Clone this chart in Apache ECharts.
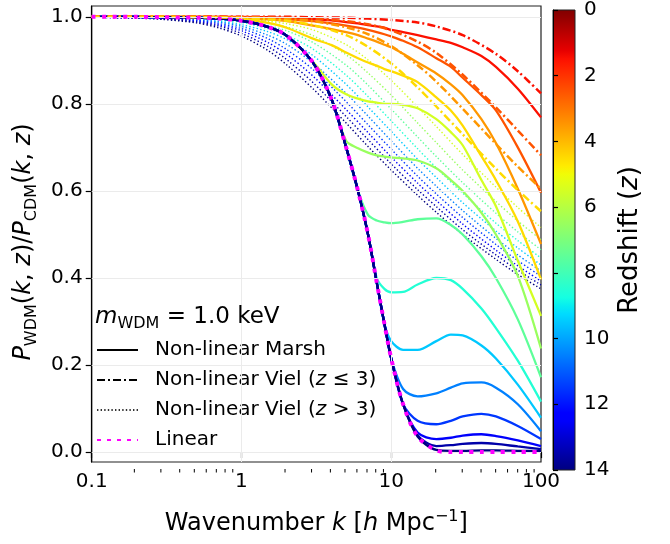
<!DOCTYPE html>
<html><head><meta charset="utf-8">
<script src="https://cdn.jsdelivr.net/npm/echarts@6/dist/echarts.min.js"></script>
<style>html,body{margin:0;padding:0;background:#fff}#c{width:670px;height:544px}</style>
</head><body><div id="c"></div>
<script>
// ---------------- DATA ----------------
const kMarsh = [0.1,0.2,0.3,0.5,0.7,1,1.5,2,3,4,5,6,7,8,9,10,12,15,20,25,30,40,50,70,100];
const linearRatio = [1.0,1.0,0.999,0.998,0.996,0.991,0.977,0.957,0.895,0.81,0.70,0.60,0.50,0.39,0.295,0.215,0.11,0.036,0.004,0.0,0.0,0.0,0.0,0.0,0.0];

const marshRedshifts = [0,1,2,3,4,5,6,7,8,9,10,11,12,13];
const marsh_z0  = [1.0,1.0,1.0,1.0,1.0,1.0,0.999,0.998,0.995,0.992,0.988,0.985,0.981,0.978,0.975,0.970,0.965,0.958,0.948,0.940,0.930,0.910,0.885,0.835,0.769];
const marsh_z1  = [1.0,1.0,1.0,1.0,1.0,0.999,0.997,0.995,0.990,0.985,0.980,0.975,0.970,0.965,0.960,0.955,0.945,0.930,0.905,0.885,0.860,0.820,0.785,0.700,0.596];
const marsh_z2  = [1.0,1.0,1.0,1.0,0.999,0.997,0.994,0.990,0.980,0.972,0.965,0.958,0.950,0.943,0.936,0.930,0.915,0.895,0.870,0.845,0.820,0.765,0.710,0.605,0.478];
const marsh_z3  = [1.0,1.0,1.0,1.0,0.998,0.995,0.986,0.975,0.950,0.935,0.918,0.905,0.895,0.888,0.880,0.875,0.865,0.850,0.815,0.785,0.750,0.680,0.625,0.530,0.397];
const marsh_z4  = [1.0,1.0,1.0,0.999,0.997,0.991,0.977,0.957,0.897,0.845,0.822,0.812,0.806,0.803,0.800,0.800,0.798,0.790,0.765,0.735,0.705,0.625,0.565,0.440,0.313];
const marsh_z5  = [1.0,1.0,0.999,0.998,0.996,0.991,0.977,0.957,0.895,0.810,0.715,0.698,0.688,0.682,0.679,0.677,0.675,0.670,0.652,0.625,0.600,0.550,0.500,0.405,0.238];
const marsh_z6  = [1.0,1.0,0.999,0.998,0.996,0.991,0.977,0.957,0.895,0.810,0.700,0.600,0.545,0.532,0.528,0.526,0.529,0.535,0.537,0.522,0.500,0.450,0.400,0.305,0.172];
const marsh_z7  = [1.0,1.0,0.999,0.998,0.996,0.991,0.977,0.957,0.895,0.810,0.700,0.600,0.500,0.400,0.375,0.367,0.368,0.385,0.400,0.395,0.375,0.330,0.285,0.210,0.116];
const marsh_z8  = [1.0,1.0,0.999,0.998,0.996,0.991,0.977,0.957,0.895,0.810,0.700,0.600,0.500,0.390,0.295,0.255,0.235,0.235,0.255,0.270,0.268,0.245,0.215,0.155,0.079];
const marsh_z9  = [1.0,1.0,0.999,0.998,0.996,0.991,0.977,0.957,0.895,0.810,0.700,0.600,0.500,0.390,0.295,0.215,0.145,0.128,0.135,0.148,0.158,0.160,0.148,0.110,0.048];
const marsh_z10 = [1.0,1.0,0.999,0.998,0.996,0.991,0.977,0.957,0.895,0.810,0.700,0.600,0.500,0.390,0.295,0.215,0.110,0.072,0.064,0.072,0.082,0.088,0.082,0.060,0.030];
const marsh_z11 = [1.0,1.0,0.999,0.998,0.996,0.991,0.977,0.957,0.895,0.810,0.700,0.600,0.500,0.390,0.295,0.215,0.110,0.045,0.030,0.033,0.038,0.041,0.037,0.027,0.014];
const marsh_z12 = [1.0,1.0,0.999,0.998,0.996,0.991,0.977,0.957,0.895,0.810,0.700,0.600,0.500,0.390,0.295,0.215,0.110,0.038,0.014,0.016,0.019,0.021,0.019,0.013,0.007];
const marsh_z13 = [1.0,1.0,0.999,0.998,0.996,0.991,0.977,0.957,0.895,0.810,0.700,0.600,0.500,0.390,0.295,0.215,0.110,0.036,0.005,0.003,0.003,0.004,0.004,0.003,0.002];

const kViel = [0.1,0.2,0.3,0.5,0.7,1,1.5,2,3,5,7,10,15,20,30,50,70,100];
const vielLowRedshifts = [0,1,2,3];
const viel_z0 = [1.0,1.0,1.0,1.0,1.0,1.0,1.0,1.0,0.999,0.998,0.996,0.993,0.987,0.978,0.958,0.915,0.875,0.824];
const viel_z1 = [1.0,1.0,1.0,1.0,1.0,0.999,0.999,0.998,0.996,0.990,0.983,0.969,0.943,0.917,0.867,0.792,0.739,0.682];
const viel_z2 = [1.0,1.0,1.0,1.0,0.999,0.999,0.997,0.995,0.990,0.976,0.960,0.933,0.889,0.851,0.789,0.708,0.656,0.605];
const viel_z3 = [1.0,1.0,1.0,0.999,0.999,0.997,0.994,0.991,0.981,0.958,0.931,0.893,0.838,0.794,0.730,0.651,0.602,0.553];
const vielHighRedshifts = [4,5,6,7,8,9,10,11,12,13];
const viel_z4  = [1.0,1.0,0.999,0.998,0.997,0.995,0.990,0.984,0.970,0.936,0.901,0.854,0.793,0.748,0.684,0.609,0.562,0.516];
const viel_z5  = [1.0,1.0,0.999,0.997,0.996,0.993,0.986,0.977,0.957,0.913,0.871,0.820,0.756,0.711,0.648,0.576,0.531,0.488];
const viel_z6  = [1.0,0.999,0.999,0.997,0.995,0.990,0.980,0.968,0.941,0.889,0.843,0.788,0.724,0.679,0.619,0.549,0.506,0.465];
const viel_z7  = [1.0,0.999,0.998,0.996,0.993,0.987,0.973,0.958,0.926,0.866,0.817,0.761,0.697,0.653,0.595,0.526,0.486,0.446];
const viel_z8  = [1.0,0.999,0.998,0.995,0.990,0.982,0.966,0.948,0.911,0.845,0.793,0.737,0.673,0.631,0.573,0.508,0.469,0.430];
const viel_z9  = [1.0,0.999,0.997,0.993,0.988,0.978,0.958,0.937,0.894,0.824,0.772,0.715,0.652,0.611,0.555,0.491,0.453,0.416];
const viel_z10 = [0.999,0.998,0.997,0.992,0.985,0.973,0.950,0.925,0.879,0.805,0.752,0.696,0.634,0.593,0.539,0.477,0.440,0.404];
const viel_z11 = [0.999,0.998,0.996,0.990,0.982,0.968,0.941,0.914,0.864,0.787,0.734,0.678,0.618,0.578,0.524,0.464,0.428,0.393];
const viel_z12 = [0.999,0.998,0.995,0.988,0.979,0.962,0.932,0.902,0.849,0.771,0.718,0.662,0.603,0.564,0.511,0.453,0.418,0.384];
const viel_z13 = [0.999,0.997,0.994,0.986,0.975,0.956,0.923,0.890,0.835,0.756,0.702,0.648,0.590,0.551,0.500,0.443,0.408,0.375];

const yTicks = [0.0,0.2,0.4,0.6,0.8,1.0];
const xMinorTicks = [0.2,0.3,0.4,0.5,0.6,0.7,0.8,0.9,2,3,4,5,6,7,8,9,20,30,40,50,60,70,80,90];
const xGridValues = [1,10];
const yMin = -0.0227, yMax = 1.0249;
const colorbarMin = 0, colorbarMax = 14, colorbarStep = 2;
const legendNames = ['Non-linear Marsh','Non-linear Viel (z≤3)','Non-linear Viel (z>3)','Linear'];

// ---------------- STYLE HELPERS ----------------
const FONT = "'DejaVu Sans', sans-serif";
const R=[[0,0],[0.35,0],[0.66,1],[0.89,1],[1,0.5]];
const G=[[0,0],[0.125,0],[0.375,1],[0.64,1],[0.91,0],[1,0]];
const B=[[0,0.5],[0.11,1],[0.34,1],[0.65,0],[1,0]];
function seg(p,t){for(let i=1;i<p.length;i++){if(t<=p[i][0]){const f=(t-p[i-1][0])/(p[i][0]-p[i-1][0]);return p[i-1][1]+f*(p[i][1]-p[i-1][1]);}}return p[p.length-1][1];}
function jet(t){t=Math.max(0,Math.min(1,t));return 'rgb('+Math.round(255*seg(R,t))+','+Math.round(255*seg(G,t))+','+Math.round(255*seg(B,t))+')';}
function zColor(z){return jet(1-(z+1.5)/colorbarMax);}
function pairs(ks,vs){return ks.map((k,i)=>[k,vs[i]]);}

const marshData=[marsh_z0,marsh_z1,marsh_z2,marsh_z3,marsh_z4,marsh_z5,marsh_z6,marsh_z7,marsh_z8,marsh_z9,marsh_z10,marsh_z11,marsh_z12,marsh_z13];
const vielLowData=[viel_z0,viel_z1,viel_z2,viel_z3];
const vielHighData=[viel_z4,viel_z5,viel_z6,viel_z7,viel_z8,viel_z9,viel_z10,viel_z11,viel_z12,viel_z13];

const DASHDOT=[8,3,2,3];
const DOTTED=[1.4,2.2];
const LINDOT=[4,6.5];

const base={type:'line',symbol:'none',showSymbol:false,smooth:0.3,silent:true,animation:false,xAxisIndex:0,yAxisIndex:0,emphasis:{disabled:true}};
const series=[];
// gridlines
series.push(Object.assign({},base,{name:'grid',data:[],z:1,markLine:{silent:true,symbol:'none',label:{show:false},animation:false,
  lineStyle:{color:'#ebebeb',width:1,type:'solid'},
  data:yTicks.map(v=>({yAxis:v})).concat(xGridValues.map(v=>({xAxis:v})))}}));
vielHighRedshifts.forEach((z,i)=>series.push(Object.assign({},base,{name:'vh'+z,z:2,data:pairs(kViel,vielHighData[i]),lineStyle:{color:zColor(z),width:1.4,type:DOTTED}})));
marshRedshifts.forEach((z,i)=>series.push(Object.assign({},base,{name:'m'+z,z:3,data:pairs(kMarsh,marshData[i]),lineStyle:{color:zColor(z),width:2.3,type:'solid'}})));
vielLowRedshifts.forEach((z,i)=>series.push(Object.assign({},base,{name:'vl'+z,z:4,data:pairs(kViel,vielLowData[i]),lineStyle:{color:zColor(z),width:2.5,type:DASHDOT}})));
series.push(Object.assign({},base,{name:'lin',z:5,data:pairs(kMarsh,linearRatio),lineStyle:{color:'#ff00ff',width:4,type:LINDOT}}));
// minor ticks: a thin strip grid under the plot, same log axis range; segments drawn through its scale
const minorTickData=[];xMinorTicks.forEach(k=>{minorTickData.push([k,0],[k,1],[k,'-']);});
series.push({type:'line',name:'minor',xAxisIndex:2,yAxisIndex:2,data:minorTickData,connectNulls:false,symbol:'none',silent:true,animation:false,
  lineStyle:{color:'#000',width:1},emphasis:{disabled:true}});
// legend entries
const legendStyles=[{color:'#000',width:2,type:'solid'},{color:'#000',width:2.2,type:DASHDOT},{color:'#333',width:1.2,type:DOTTED},{color:'#ff00ff',width:4,type:[4,6]}];
legendNames.forEach((n,i)=>series.push({type:'line',name:n,data:[],symbol:'none',xAxisIndex:0,yAxisIndex:0,lineStyle:legendStyles[i],itemStyle:{color:legendStyles[i].color}}));
// colorbar placeholder series
series.push({type:'line',name:'cb',data:[],xAxisIndex:1,yAxisIndex:1,symbol:'none'});

const stops=[];for(let i=0;i<=56;i++){stops.push({offset:i/56,color:jet(1-i/56)});}

const legendRich={t:{fontSize:20,fontFamily:FONT,color:'#000'},i:{fontSize:20,fontFamily:FONT,fontStyle:'italic',color:'#000'}};
const legendFmt={'Non-linear Marsh':'{t|Non-linear Marsh}','Non-linear Viel (z≤3)':'{t|Non-linear Viel (}{i|z}{t| ≤ 3)}','Non-linear Viel (z>3)':'{t|Non-linear Viel (}{i|z}{t| > 3)}','Linear':'{t|Linear}'};

const option={
  animation:false,
  backgroundColor:'#fff',
  title:{text:'{i|m}{s|WDM}{t| = 1.0 keV}',left:95,top:302,padding:0,
    textStyle:{fontWeight:'normal',rich:{i:{fontSize:23,fontFamily:FONT,fontStyle:'italic',fontWeight:'normal',color:'#000',lineHeight:30},
      s:{fontSize:16,fontFamily:FONT,fontWeight:'normal',color:'#000',lineHeight:16,padding:[14,0,0,0]},
      t:{fontSize:23,fontFamily:FONT,fontWeight:'normal',color:'#000',lineHeight:30}}}},
  legend:{data:legendNames,orient:'vertical',left:96,top:340,itemGap:10,itemWidth:41,itemHeight:14,padding:0,
    itemStyle:{opacity:0,borderWidth:0},
    formatter:n=>legendFmt[n],textStyle:{fontSize:20,fontFamily:FONT,color:'#000',padding:[0,0,0,12],rich:legendRich},selectedMode:false},
  grid:[
    {left:89,right:129,top:6,bottom:76,show:true,borderColor:'#222',borderWidth:1.2,containLabel:false},
    {left:553,width:22,top:6,height:464,show:true,borderColor:'#222',borderWidth:1,backgroundColor:new echarts.graphic.LinearGradient(0,0,0,1,stops)},
    {left:89,right:129,top:469,height:3.5,show:false,containLabel:false}
  ],
  xAxis:[
    {type:'log',logBase:10,min:0.1,max:100,gridIndex:0,position:'bottom',
     axisLine:{show:true,lineStyle:{color:'#000',width:1.2}},
     axisTick:{show:true,length:6,inside:false,lineStyle:{color:'#000',width:1.2}},
     axisLabel:{fontSize:20,fontFamily:FONT,color:'#000',margin:10,formatter:v=>v<1?String(Number(v.toPrecision(1))):String(Math.round(v))},
     splitLine:{show:false},minorTick:{show:false},
     name:'{t|Wavenumber }{i|k}{t| [}{i|h}{t| Mpc}{p|−1}{t|]}',nameLocation:'middle',nameGap:46,
     nameTextStyle:{rich:{t:{fontSize:24,fontFamily:FONT,color:'#000',lineHeight:32},i:{fontSize:24,fontFamily:FONT,fontStyle:'italic',color:'#000',lineHeight:32},p:{fontSize:16,fontFamily:FONT,color:'#000',lineHeight:18,padding:[0,0,14,0]}}}},
    {type:'value',gridIndex:1,min:0,max:1,show:false},
    {type:'log',logBase:10,min:0.1,max:100,gridIndex:2,show:false}
  ],
  yAxis:[
    {type:'value',min:yMin,max:yMax,gridIndex:0,
     axisLine:{show:true,lineStyle:{color:'#000',width:1.2}},
     axisTick:{show:true,length:6,inside:false,customValues:yTicks,lineStyle:{color:'#000',width:1.2}},
     axisLabel:{fontSize:20,fontFamily:FONT,color:'#000',margin:9,customValues:yTicks,formatter:v=>v.toFixed(1)},
     splitLine:{show:false},
     name:'{i|P}{s|WDM}{t|(}{i|k}{t|, }{i|z}{t|)/}{i|P}{s|CDM}{t|(}{i|k}{t|, }{i|z}{t|)}',nameLocation:'middle',nameGap:50,nameRotate:90,
     nameTextStyle:{padding:[0,16,0,0],rich:{t:{fontSize:24,fontFamily:FONT,color:'#000',lineHeight:32},i:{fontSize:24,fontFamily:FONT,fontStyle:'italic',color:'#000',lineHeight:32},s:{fontSize:16,fontFamily:FONT,color:'#000',lineHeight:16,padding:[16,0,0,0]}}}},
    {type:'value',gridIndex:1,min:colorbarMin,max:colorbarMax,interval:colorbarStep,inverse:true,position:'right',
     axisLine:{show:true,lineStyle:{color:'#000',width:1}},
     axisTick:{show:true,length:5,inside:false,lineStyle:{color:'#000',width:1.2}},
     axisLabel:{fontSize:20,fontFamily:FONT,color:'#000',margin:9},
     splitLine:{show:false},
     name:'{t|Redshift (}{i|z}{t|)}',nameLocation:'middle',nameRotate:90,nameGap:42,
     nameTextStyle:{rich:{t:{fontSize:26,fontFamily:FONT,color:'#000'},i:{fontSize:26,fontFamily:FONT,fontStyle:'italic',color:'#000'}}}},
    {type:'value',gridIndex:2,min:0,max:1,inverse:true,show:false}
  ],
  series:series
};
const chart=echarts.init(document.getElementById('c'),null,{renderer:'canvas'});
chart.setOption(option);
</script></body></html>
